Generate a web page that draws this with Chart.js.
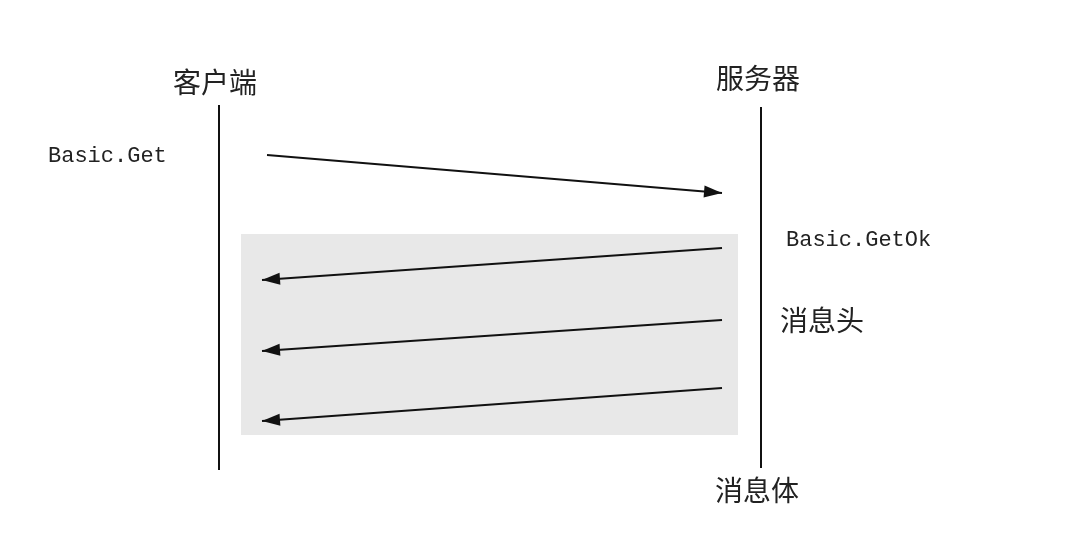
<!DOCTYPE html>
<html>
<head>
<meta charset="utf-8">
<script src="https://cdn.jsdelivr.net/npm/chart.js@4"></script>
<style>
  html, body { margin: 0; padding: 0; background: #fff; }
  #wrap { width: 1076px; height: 538px; }
</style>
</head>
<body>
<div id="wrap"><canvas id="c"></canvas></div>
<script>
// diagram coordinates (x right, y down), in a 1076 x 538 space
const lifelines = [
  { x: 219, y0: 105, y1: 470 },
  { x: 761, y0: 107, y1: 468 }
];
const messages = [
  { from: [267, 155], to: [722, 193] },
  { from: [722, 248], to: [262, 280] },
  { from: [722, 320], to: [262, 351] },
  { from: [722, 388], to: [262, 421] }
];
const shadedBox = { x0: 241, x1: 738, y0: 234, y1: 435 };
const labels = [
  { text: '客户端', x: 215, y: 82, font: '28px "Noto Sans CJK SC"', align: 'center' },
  { text: '服务器', x: 758, y: 78, font: '28px "Noto Sans CJK SC"', align: 'center' },
  { text: 'Basic.Get', x: 48, y: 156, font: '22px "Liberation Mono"', align: 'left' },
  { text: 'Basic.GetOk', x: 786, y: 240, font: '22px "Liberation Mono"', align: 'left' },
  { text: '消息头', x: 780, y: 320, font: '28px "Noto Sans CJK SC"', align: 'left' },
  { text: '消息体', x: 715, y: 490, font: '28px "Noto Sans CJK SC"', align: 'left' }
];

const datasets = [];
lifelines.forEach(l => datasets.push({
  data: [{ x: l.x, y: l.y0 }, { x: l.x, y: l.y1 }],
  borderColor: '#111', borderWidth: 2, pointRadius: 0, showLine: true
}));
messages.forEach(m => datasets.push({
  data: [{ x: m.from[0], y: m.from[1] }, { x: m.to[0], y: m.to[1] }],
  borderColor: '#111', borderWidth: 2, pointRadius: 0, showLine: true
}));

const diagramPlugin = {
  id: 'diagram',
  beforeDatasetsDraw(chart) {
    const { ctx, scales: { x, y } } = chart;
    ctx.save();
    ctx.fillStyle = '#e8e8e8';
    const px = x.getPixelForValue(shadedBox.x0), py = y.getPixelForValue(shadedBox.y0);
    ctx.fillRect(px, py, x.getPixelForValue(shadedBox.x1) - px, y.getPixelForValue(shadedBox.y1) - py);
    ctx.restore();
  },
  afterDatasetsDraw(chart) {
    const { ctx, scales: { x, y } } = chart;
    ctx.save();
    ctx.fillStyle = '#111';
    messages.forEach(m => {
      const x1 = x.getPixelForValue(m.from[0]), y1 = y.getPixelForValue(m.from[1]);
      const x2 = x.getPixelForValue(m.to[0]), y2 = y.getPixelForValue(m.to[1]);
      const a = Math.atan2(y2 - y1, x2 - x1);
      ctx.beginPath();
      ctx.moveTo(x2, y2);
      ctx.lineTo(x2 - 18 * Math.cos(a) + 6 * Math.sin(a), y2 - 18 * Math.sin(a) - 6 * Math.cos(a));
      ctx.lineTo(x2 - 18 * Math.cos(a) - 6 * Math.sin(a), y2 - 18 * Math.sin(a) + 6 * Math.cos(a));
      ctx.closePath();
      ctx.fill();
    });
    ctx.fillStyle = '#222';
    ctx.textBaseline = 'middle';
    labels.forEach(l => {
      ctx.font = l.font;
      ctx.textAlign = l.align;
      ctx.fillText(l.text, x.getPixelForValue(l.x), y.getPixelForValue(l.y));
    });
    ctx.restore();
  }
};

new Chart(document.getElementById('c'), {
  type: 'scatter',
  data: { datasets },
  options: {
    responsive: true, maintainAspectRatio: false, animation: false,
    layout: { padding: 0 },
    plugins: { legend: { display: false }, tooltip: { enabled: false } },
    scales: {
      x: { type: 'linear', min: 0, max: 1076, display: false },
      y: { type: 'linear', min: 0, max: 538, reverse: true, display: false }
    }
  },
  plugins: [diagramPlugin]
});
</script>
</body>
</html>
